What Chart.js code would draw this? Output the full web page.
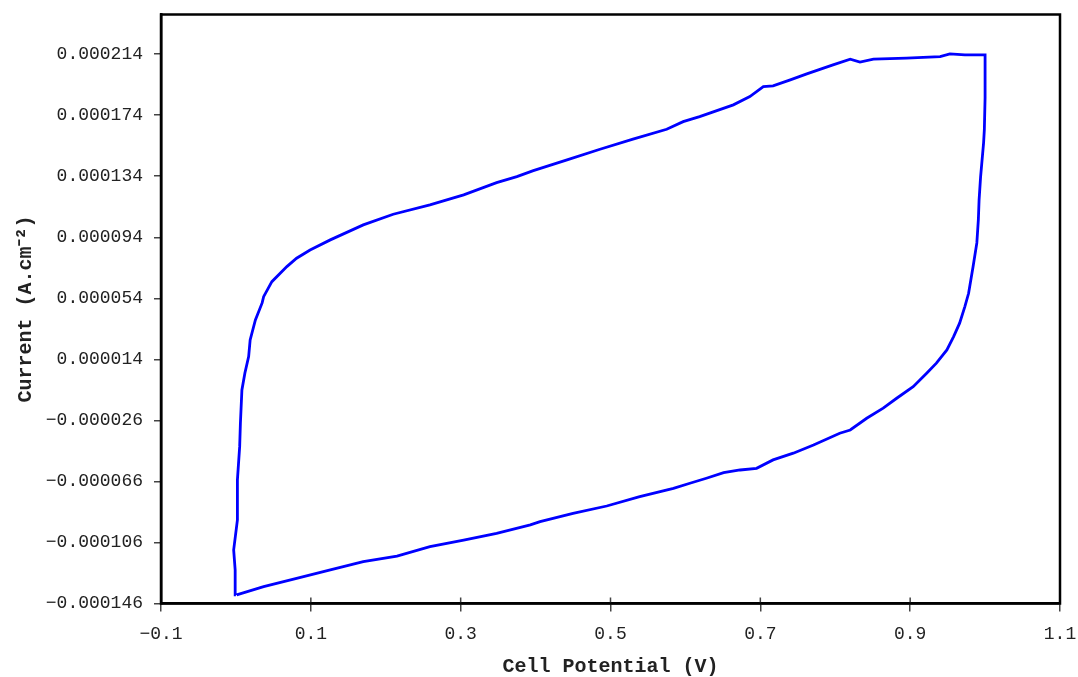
<!DOCTYPE html>
<html lang="en">

<head>
  <meta charset="UTF-8">
  <title>Cyclic voltammetry</title>
  <style>
    body { margin: 0; background: #fff; }
    .grafico { width: 1078px; height: 677px; }
  </style>
</head>

<body>
  <div class="grafico">
    <canvas id="cvChart"></canvas>
  </div>

  <script src="https://cdn.jsdelivr.net/npm/chart.js"></script>
  <script>
    // forward sweep 0 -> 1.0 V (upper branch)
    const forwardPotential = [
      0.000, -0.001, -0.003, 0.002, 0.002, 0.005, 0.006, 0.008, 0.012, 0.017, 0.019, 0.026,
      0.035, 0.037, 0.048, 0.068, 0.081, 0.099, 0.126, 0.170, 0.210, 0.259, 0.304, 0.348,
      0.375, 0.397, 0.442, 0.486, 0.530, 0.575, 0.597, 0.619, 0.664, 0.686, 0.704, 0.717,
      0.740, 0.762, 0.797, 0.820, 0.833, 0.851, 0.895, 0.940, 0.953, 0.973, 1.000
    ];
    const forwardCurrent = [
      -140.4e-6, -124.0e-6, -110.9e-6, -91.3e-6, -65.0e-6, -43.2e-6, -27.7e-6, -6.1e-6, 5.1e-6, 15.8e-6, 26.7e-6, 39.8e-6,
      51.0e-6, 55.1e-6, 64.9e-6, 74.8e-6, 80.3e-6, 85.7e-6, 92.3e-6, 102.1e-6, 109.1e-6, 115.2e-6, 121.8e-6, 129.8e-6,
      133.8e-6, 137.7e-6, 144.7e-6, 151.7e-6, 158.3e-6, 164.8e-6, 169.8e-6, 173.1e-6, 180.8e-6, 186.2e-6, 192.8e-6, 193.2e-6,
      197.2e-6, 201.1e-6, 207.0e-6, 210.7e-6, 208.8e-6, 210.7e-6, 211.4e-6, 212.4e-6, 214.2e-6, 213.5e-6, 213.5e-6
    ];

    // reverse sweep 1.0 -> 0 V (lower branch)
    const reversePotential = [
      1.000, 0.999, 0.998, 0.994, 0.992, 0.991, 0.989, 0.984, 0.978, 0.973, 0.966, 0.958,
      0.949, 0.935, 0.922, 0.904, 0.882, 0.864, 0.842, 0.820, 0.806, 0.771, 0.744, 0.717,
      0.695, 0.673, 0.651, 0.628, 0.606, 0.584, 0.539, 0.495, 0.450, 0.406, 0.393, 0.348,
      0.304, 0.259, 0.215, 0.170, 0.126, 0.081, 0.037, 0.001
    ];
    const reverseCurrent = [
      185.4e-6, 164.4e-6, 155.9e-6, 133.6e-6, 118.5e-6, 105.4e-6, 90.3e-6, 74.8e-6, 57.3e-6, 48.6e-6, 37.7e-6, 28.9e-6,
      20.2e-6, 11.5e-6, 4.9e-6, -3.9e-6, -11.5e-6, -18.0e-6, -24.6e-6, -32.3e-6, -34.4e-6, -42.1e-6, -47.5e-6, -51.9e-6,
      -57.4e-6, -58.5e-6, -60.3e-6, -63.9e-6, -67.2e-6, -70.5e-6, -76.0e-6, -82.1e-6, -86.9e-6, -92.4e-6, -94.5e-6, -100.0e-6,
      -104.4e-6, -108.8e-6, -114.9e-6, -118.6e-6, -124.0e-6, -129.5e-6, -135.0e-6, -140.4e-6
    ];

    const xTicks = [-0.1, 0.1, 0.3, 0.5, 0.7, 0.9, 1.1];
    const yTicks = [-146e-6, -106e-6, -66e-6, -26e-6, 14e-6, 54e-6, 94e-6, 134e-6, 174e-6, 214e-6];

    let pontos = [];
    for (let i = 0; i < forwardPotential.length; i++) {
      pontos.push({ x: forwardPotential[i], y: forwardCurrent[i] });
    }
    for (let i = 0; i < reversePotential.length; i++) {
      pontos.push({ x: reversePotential[i], y: reverseCurrent[i] });
    }

    const fonteTicks = { family: 'Liberation Mono', size: 18 };
    const fonteTitulo = { family: 'Liberation Mono', size: 20, weight: 'bold', lineHeight: 1.05 };

    function menos(txt) {
      return txt.replace('-', '\u2212');
    }

    // box around the plot + the inner half of the x ticks
    const moldura = {
      id: 'moldura',
      afterDatasetsDraw(chart) {
        const { ctx, chartArea: a, scales: { x } } = chart;
        ctx.save();
        ctx.strokeStyle = '#444';
        ctx.lineWidth = 1.5;
        ctx.beginPath();
        x.ticks.forEach(function (t, i) {
          const px = x.getPixelForTick(i);
          ctx.moveTo(px, a.bottom);
          ctx.lineTo(px, a.bottom - 6);
        });
        ctx.stroke();
        ctx.strokeStyle = '#000';
        ctx.lineWidth = 2.5;
        ctx.strokeRect(a.left, a.top, a.right - a.left, a.bottom - a.top);
        ctx.restore();
      }
    };

    const config = {
      type: 'scatter',
      data: {
        datasets: [{
          data: pontos,
          showLine: true,
          borderColor: '#0000ff',
          borderWidth: 2.8,
          pointRadius: 0,
          tension: 0,
          fill: false
        }]
      },
      options: {
        responsive: true,
        maintainAspectRatio: false,
        animation: false,
        layout: { padding: { top: 14.5, right: 18, left: 0, bottom: 0 } },
        plugins: { legend: { display: false }, tooltip: { enabled: false } },
        scales: {
          x: {
            type: 'linear',
            min: -0.1,
            max: 1.1,
            afterBuildTicks: function (scale) { scale.ticks = xTicks.map(v => ({ value: v })); },
            afterFit: function (scale) {
              scale.height = 73.5;
              scale.paddingLeft = 0;
              scale.paddingRight = 0;
            },
            border: { display: true, color: '#000', width: 2.5 },
            grid: { drawOnChartArea: false, drawTicks: true, tickLength: 8, color: '#444', lineWidth: 1.5 },
            ticks: {
              font: fonteTicks,
              color: '#222',
              padding: 12,
              maxRotation: 0,
              callback: function (v) { return menos(v.toFixed(1)); }
            },
            title: {
              display: true,
              text: 'Cell Potential (V)',
              font: fonteTitulo,
              color: '#222',
              padding: { top: 0, bottom: 0 }
            }
          },
          y: {
            type: 'linear',
            min: -146e-6,
            max: 240e-6,
            afterBuildTicks: function (scale) { scale.ticks = yTicks.map(v => ({ value: v })); },
            afterFit: function (scale) {
              scale.width = 161;
              scale.paddingTop = 0;
              scale.paddingBottom = 0;
            },
            border: { display: true, color: '#000', width: 2.5 },
            grid: { drawOnChartArea: false, drawTicks: true, tickLength: 7, color: '#444', lineWidth: 1.5 },
            ticks: {
              font: fonteTicks,
              color: '#222',
              padding: 11,
              callback: function (v) { return menos(v.toFixed(6)); }
            },
            title: {
              display: true,
              text: 'Current (A.cm\u207B\u00B2)',
              font: fonteTitulo,
              color: '#222',
              padding: { top: 15, bottom: 0 }
            }
          }
        }
      },
      plugins: [moldura]
    };

    let grafico = new Chart(document.getElementById('cvChart'), config);
  </script>
</body>

</html>
